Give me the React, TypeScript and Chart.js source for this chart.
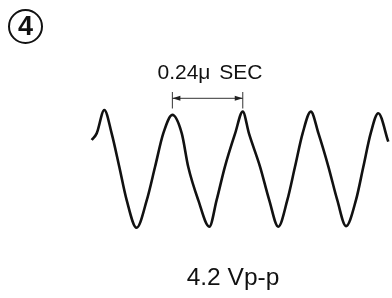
import React, { useEffect, useRef } from "react";
import { Chart, registerables } from "chart.js";

Chart.register(...registerables);

// Waveform samples (time in ns, voltage in V)
const TIME_NS = [
  -43, -26, 0, 25, 51, 76, 110, 145, 173, 201,
  232, 264, 286, 320, 358, 383, 411, 446, 472, 493,
  531, 562, 593, 624, 650, 676, 704, 730, 764, 794,
  824, 858, 883, 908, 934, 968,
];
const VOLTS = [
  1.05, 1.29, 2.14, 1.29, 0.08, -1.12, -2.13, -1.12, 0.08, 1.29,
  1.96, 1.29, 0.08, -1.12, -2.09, -1.12, 0.08, 1.29, 2.08, 1.29,
  0.08, -1.12, -2.09, -1.12, 0.08, 1.29, 2.08, 1.29, 0.08, -1.12,
  -2.07, -1.12, 0.08, 1.29, 2.02, 0.99,
];

// Period marker (between two peaks)
const PERIOD_START_NS = 232;
const PERIOD_END_NS = 472;

const LABEL_PERIOD = "0.24\u03bc SEC";
const LABEL_AMPLITUDE = "4.2 Vp-p";
const LABEL_NUMBER = "4";

// View window
const X_MIN = -355.6;
const X_MAX = 980.7;
const Y_MIN = -4.674;
const Y_MAX = 6.123;

const W = 392;
const H = 298;

const arrowPlugin = {
  id: "periodArrow",
  afterDatasetsDraw(chart: any) {
    const ctx = chart.ctx;
    const xs = chart.scales.x;
    const x1 = xs.getPixelForValue(PERIOD_START_NS);
    const x2 = xs.getPixelForValue(PERIOD_END_NS);
    const yTop = 92;
    const yBot = 108.5;
    const yArr = 98.3;
    ctx.save();
    ctx.strokeStyle = "#333";
    ctx.fillStyle = "#222";
    ctx.lineWidth = 1;
    ctx.beginPath();
    ctx.moveTo(x1, yTop);
    ctx.lineTo(x1, yBot);
    ctx.moveTo(x2, yTop);
    ctx.lineTo(x2, yBot);
    ctx.moveTo(x1, yArr);
    ctx.lineTo(x2, yArr);
    ctx.stroke();
    const al = 8;
    const ah = 2.5;
    ctx.beginPath();
    ctx.moveTo(x1, yArr);
    ctx.lineTo(x1 + al, yArr - ah);
    ctx.lineTo(x1 + al, yArr + ah);
    ctx.closePath();
    ctx.fill();
    ctx.beginPath();
    ctx.moveTo(x2, yArr);
    ctx.lineTo(x2 - al, yArr - ah);
    ctx.lineTo(x2 - al, yArr + ah);
    ctx.closePath();
    ctx.fill();
    ctx.restore();
  },
};

export default function App() {
  const canvasRef = useRef<HTMLCanvasElement | null>(null);

  useEffect(() => {
    const canvas = canvasRef.current;
    if (!canvas) return;
    const data = TIME_NS.map((t, i) => ({ x: t, y: VOLTS[i] }));
    const chart = new Chart(canvas, {
      type: "line",
      data: {
        datasets: [
          {
            data,
            borderColor: "#111",
            borderWidth: 2.6,
            pointRadius: 0,
            cubicInterpolationMode: "monotone",
            fill: false,
            clip: false as any,
          },
        ],
      },
      options: {
        responsive: false,
        maintainAspectRatio: false,
        animation: false,
        events: [],
        layout: { padding: 0 },
        plugins: {
          legend: { display: false },
          tooltip: { enabled: false },
          title: { display: false },
        },
        scales: {
          x: { type: "linear", display: false, min: X_MIN, max: X_MAX },
          y: { type: "linear", display: false, min: Y_MIN, max: Y_MAX },
        },
      },
      plugins: [arrowPlugin],
    });
    return () => chart.destroy();
  }, []);

  const font = '"Liberation Sans", Arial, Helvetica, sans-serif';

  return (
    <div
      style={{
        position: "fixed",
        left: 0,
        top: 0,
        width: W,
        height: H,
        background: "#fff",
        overflow: "hidden",
      }}
    >
      <canvas
        ref={canvasRef}
        width={W}
        height={H}
        style={{ position: "absolute", left: 0, top: 0, width: W, height: H }}
      />
      <div
        style={{
          position: "absolute",
          left: 8,
          top: 9,
          width: 35,
          height: 35,
          boxSizing: "border-box",
          border: "2.2px solid #111",
          borderRadius: "50%",
          display: "flex",
          alignItems: "center",
          justifyContent: "center",
          fontFamily: font,
          fontWeight: "bold",
          fontSize: 27,
          lineHeight: 1,
          color: "#111",
        }}
      >
        {LABEL_NUMBER}
      </div>
      <div
        style={{
          position: "absolute",
          left: 110,
          width: 200,
          top: 60.7,
          textAlign: "center",
          fontFamily: font,
          fontSize: 21,
          lineHeight: 1,
          wordSpacing: 3,
          color: "#111",
          whiteSpace: "pre",
        }}
      >
        {LABEL_PERIOD}
      </div>
      <div
        style={{
          position: "absolute",
          left: 133,
          width: 200,
          top: 265.3,
          textAlign: "center",
          fontFamily: font,
          fontSize: 24.5,
          lineHeight: 1,
          color: "#111",
          whiteSpace: "pre",
        }}
      >
        {LABEL_AMPLITUDE}
      </div>
    </div>
  );
}
